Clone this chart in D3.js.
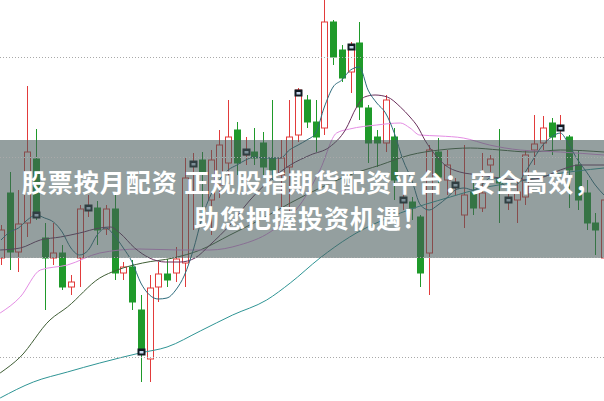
<!DOCTYPE html>
<html><head><meta charset="utf-8">
<script src="https://cdn.jsdelivr.net/npm/d3@7"></script>
<style>html,body{margin:0;padding:0;background:#fff;overflow:hidden}</style>
</head><body>
<svg id="c" width="604" height="401"></svg>
<script>
// ---- data ----
const highs  = [2.32,2.85,2.67,3.71,3.28,2.34,2.34,2.12,1.82,2.52,2.62,2.56,2.52,2.64,1.95,1.97,1.62,1.82,1.95,1.98,2.10,2.99,3.04,3.05,3.07,3.27,3.57,3.35,3.20,3.29,3.25,3.57,3.17,3.57,3.69,3.62,3.57,4.62,4.37,4.12,4.15,4.35,3.52,3.27,3.62,3.29,2.67,2.60,2.42,3.12,3.19,3.07,2.79,3.12,2.74,3.04,3.02,3.28,2.67,2.77,3.07,3.42,3.41,3.39,3.42,3.22,3.07,2.77,2.44,2.67];
const opens  = [1.99,2.64,2.05,2.34,2.98,2.19,1.99,2.04,1.70,1.99,2.48,2.49,2.28,2.48,1.84,1.90,1.47,0.98,1.70,1.83,1.84,1.94,2.91,2.97,2.57,2.72,2.94,3.27,3.02,3.05,3.14,2.99,2.82,2.90,3.22,3.57,3.35,3.29,4.35,4.07,3.85,4.14,3.49,3.20,3.14,3.20,2.55,2.55,2.40,2.04,3.05,2.77,2.71,2.42,2.65,2.49,2.92,2.79,2.55,2.57,2.60,3.07,3.14,3.34,3.27,3.20,2.92,2.64,2.34,1.99];
const closes = [2.27,2.05,2.33,3.05,2.45,1.99,2.04,1.70,1.75,2.48,2.50,2.27,2.48,1.84,1.90,1.55,1.05,1.69,1.83,1.77,1.98,2.79,2.95,2.85,2.97,3.12,3.20,2.94,3.07,2.99,2.90,2.87,2.99,3.20,3.67,3.35,3.20,4.35,4.00,3.79,4.10,3.50,3.14,3.14,3.57,2.77,2.59,2.49,1.84,3.07,2.80,2.92,2.73,2.62,2.49,2.64,2.98,2.74,2.59,2.65,3.02,3.13,3.29,3.20,3.31,2.87,2.57,2.34,2.27,2.57];
const lows   = [1.92,1.87,1.85,2.20,2.37,1.47,1.92,1.67,1.62,1.70,2.40,2.12,2.22,1.77,1.77,1.47,0.75,0.75,1.55,1.70,1.75,1.70,2.27,2.42,2.22,2.59,2.79,2.82,2.92,2.92,2.82,2.77,2.32,2.44,3.15,3.29,3.05,3.22,3.92,3.75,3.64,3.37,2.94,2.90,3.05,2.57,2.47,2.37,1.70,1.62,2.64,2.62,2.62,2.29,2.42,2.45,2.85,2.34,2.47,2.34,2.52,2.92,3.07,3.02,3.17,2.49,2.47,2.27,2.02,1.95];

const markerIdx = [4,10,16,22,28,34,40,46,52,58,64];
const markerVal = [2.42,2.49,1.05,2.93,3.05,3.64,4.10,2.57,2.72,2.57,3.29];

const ma5 = [2.17,2.25,2.29,2.37,2.42,2.39,2.35,2.25,2.09,2.02,2.07,2.22,2.29,2.21,2.09,1.95,1.74,1.62,1.58,1.59,1.67,1.82,2.07,2.39,2.62,2.77,2.87,2.92,2.97,3.00,2.99,2.99,2.99,3.07,3.12,3.17,3.24,3.50,3.70,3.77,3.87,3.90,3.67,3.54,3.44,3.24,2.97,2.77,2.52,2.47,2.52,2.59,2.67,2.69,2.67,2.72,2.79,2.77,2.69,2.72,2.85,2.99,3.12,3.20,3.24,3.12,2.97,2.85,2.72,2.62];

const ma10 = [[-0.1,2.07],[2.2,2.09],[4.5,2.17],[6.8,2.20],[9.0,2.24],[11.3,2.29],[12.5,2.30],[13.6,2.24],[15.3,2.09],[17.0,1.99],[18.8,1.95],[20.5,1.95],[22.2,1.99],[23.9,2.12],[26.2,2.32],[28.5,2.57],[30.8,2.77],[33.1,2.92],[35.4,3.02],[37.6,3.10],[39.4,3.27],[40.7,3.50],[41.6,3.60],[42.8,3.62],[44.2,3.60],[45.7,3.50],[46.8,3.40],[47.7,3.30],[48.5,3.17],[49.7,3.02],[50.8,2.92],[52.5,2.85],[54.8,2.82],[57.1,2.79],[59.4,2.77],[61.7,2.79],[64.0,2.87],[66.2,2.92],[69.0,2.92]];
const ma20 = [[-0.1,1.44],[2.2,1.60],[4.5,1.87],[7.6,1.92],[11.3,2.04],[15.9,2.08],[20.5,2.07],[23.9,2.07],[27.3,2.12],[30.8,2.25],[34.2,2.52],[36.5,2.87],[38.4,3.24],[39.9,3.28],[43.0,3.32],[45.7,3.34],[46.8,3.29],[47.9,3.22],[50.2,3.21],[52.9,3.19],[55.9,3.12],[59.4,3.07],[64.0,3.05],[69.0,3.02]];
const ma30 = [[-0.1,0.84],[2.2,1.00],[5.6,1.37],[7.6,1.50],[11.3,1.79],[13.3,1.87],[16.2,1.94],[19.7,1.99],[22.8,2.07],[26.2,2.22],[29.6,2.37],[33.1,2.54],[36.5,2.69],[39.9,2.82],[43.4,2.92],[46.8,3.02],[50.2,3.07],[53.7,3.09],[57.1,3.07],[60.5,3.05],[64.0,3.07],[69.0,3.05]];
const ma60 = [[-0.1,0.59],[3.7,0.75],[7.6,0.85],[11.3,0.94],[15.9,1.04],[19.0,1.10],[22.8,1.26],[26.5,1.42],[30.4,1.57],[33.1,1.74],[36.5,1.99],[39.9,2.20],[45.7,2.44],[51.4,2.60],[55.1,2.69],[59.0,2.75],[62.8,2.82],[69.0,2.89]];

const gridVals = [4, 3, 2, 1];
const titleLines = ["股票按月配资 正规股指期货配资平台：安全高效，", "助您把握投资机遇！"];

// ---- drawing ----
const W = 604, H = 401;
const svg = d3.select("#c");
const x = d3.scaleLinear().domain([0, 69]).range([1, 604]);
const y = d3.scaleLinear().domain([0.56, 4.57]).range([H, 0]);
const RED = "#e23b3b", GREEN = "#1f9a2a";

svg.append("rect").attr("width", W).attr("height", H).attr("fill", "#fff");

const candles = d3.range(highs.length).map(i => ({i, o: opens[i], h: highs[i], l: lows[i], c: closes[i]}));
const cg = svg.append("g");
const px = i => Math.round(x(i)) + 0.5;
cg.selectAll("line.w").data(candles).join("line")
  .attr("x1", d => px(d.i)).attr("x2", d => px(d.i))
  .attr("y1", d => y(d.h)).attr("y2", d => y(d.l))
  .attr("stroke", d => d.c >= d.o ? RED : GREEN).attr("stroke-width", 1);
cg.selectAll("rect.b").data(candles).join("rect")
  .attr("x", d => px(d.i) - 3).attr("width", 6)
  .attr("y", d => y(Math.max(d.o, d.c)))
  .attr("height", d => Math.max(1, Math.abs(y(d.o) - y(d.c))))
  .attr("fill", d => d.c >= d.o ? "#fff" : GREEN)
  .attr("stroke", d => d.c >= d.o ? RED : GREEN).attr("stroke-width", 1);

const lineGen = d3.line().x(d => x(d[0])).y(d => y(d[1])).curve(d3.curveMonotoneX);
const maSeries = [
  {pts: ma60, color: "#2f9595"},
  {pts: ma30, color: "#3f5e35"},
  {pts: ma20, color: "#e48de4"},
  {pts: ma10, color: "#6a2f5c"},
  {pts: ma5.map((v, i) => [i, v]), color: "#2d6b7c"}
];
svg.append("g").selectAll("path").data(maSeries).join("path")
  .attr("d", d => lineGen(d.pts)).attr("fill", "none")
  .attr("stroke", d => d.color).attr("stroke-width", 1);

const mg = svg.append("g").selectAll("g").data(markerIdx.map((m, k) => ({i: m, v: markerVal[k]}))).join("g");
mg.append("rect").attr("x", d => px(d.i) - 4).attr("y", d => y(d.v) - 3.5).attr("width", 8).attr("height", 7).attr("fill", "#111a22");
mg.append("rect").attr("x", d => px(d.i) - 2).attr("y", d => y(d.v) - 1).attr("width", 4).attr("height", 2.5).attr("fill", "#c9d9ee");

// overlay band
svg.append("rect").attr("x", 0).attr("y", 140).attr("width", W).attr("height", 118)
  .attr("fill", "#465a5a").attr("opacity", 0.58);

// dotted grid lines
svg.append("g").selectAll("line").data(gridVals).join("line")
  .attr("x1", 0).attr("x2", W)
  .attr("y1", d => Math.round(y(d)) + 0.5).attr("y2", d => Math.round(y(d)) + 0.5)
  .attr("stroke", "#a9a9a9").attr("stroke-width", 1).attr("stroke-dasharray", "1,2");

// caption
svg.append("g").selectAll("text").data(titleLines).join("text")
  .attr("x", 311).attr("y", (d, k) => 192 + k * 36)
  .attr("text-anchor", "middle")
  .attr("font-family", "'Noto Sans CJK SC', 'Noto Sans', sans-serif")
  .attr("font-weight", 700).attr("font-size", 25).attr("letter-spacing", 1)
  .attr("fill", "#fff").text(d => d);
</script>
</body></html>
